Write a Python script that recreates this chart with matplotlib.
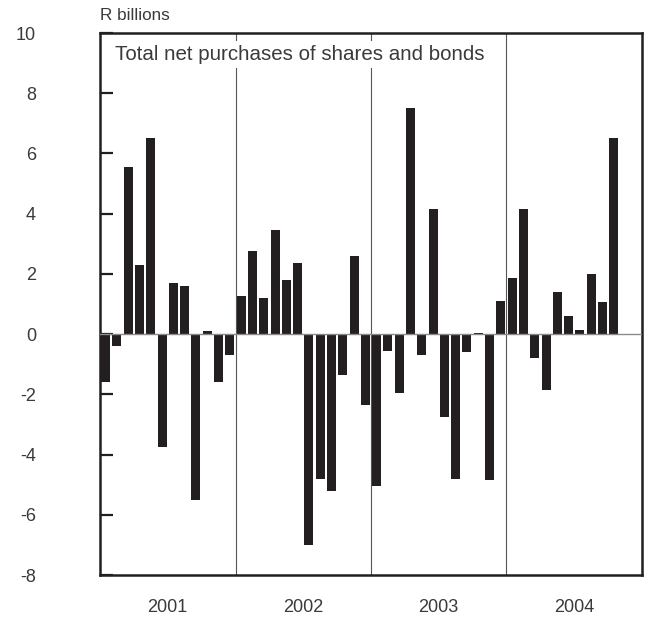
import numpy as np
import matplotlib
matplotlib.use('Agg')
import matplotlib.pyplot as plt

plt.rcParams['font.family'] = ['Liberation Sans', 'DejaVu Sans']

# monthly values, R billions (Jan 2001 - Oct 2004)
years = ['2001', '2002', '2003', '2004']
v2001 = [-1.6, -0.4, 5.55, 2.3, 6.5, -3.75, 1.7, 1.6, -5.5, 0.1, -1.6, -0.7]
v2002 = [1.25, 2.75, 1.2, 3.45, 1.8, 2.35, -7.0, -4.8, -5.2, -1.35, 2.6, -2.35]
v2003 = [-5.05, -0.55, -1.95, 7.5, -0.7, 4.15, -2.75, -4.8, -0.6, 0.03, -4.85, 1.1]
v2004 = [1.85, 4.15, -0.8, -1.85, 1.4, 0.6, 0.15, 2.0, 1.05, 6.5]
yticks = [-8, -6, -4, -2, 0, 2, 4, 6, 8, 10]

values = v2001 + v2002 + v2003 + v2004
x = np.arange(len(values))

txt = '#3a3a3a'
dark = '#231f20'

fig = plt.figure(figsize=(6.62, 6.18), dpi=100)
ax = fig.add_axes([100/662, 43/618, 542/662, 542/618])

ax.bar(x, values, width=0.8, color=dark, zorder=3)
ax.axhline(0, color='#8a8a8a', lw=1.0, zorder=4)

# year separators
for i in range(1, len(years)):
    ax.axvline(12*i - 0.5, color='#555555', lw=0.8, zorder=1)

ax.set_xlim(-0.5, 47.5)
ax.set_ylim(-8, 10)

ax.set_yticks(yticks)
ax.set_yticklabels([str(t) for t in yticks], color=txt, fontsize=13)
ax.tick_params(axis='y', direction='in', length=9, width=1.6, color=dark, pad=46)
for lab in ax.get_yticklabels():
    lab.set_horizontalalignment('right')

ax.set_xticks([12*i + 5.5 for i in range(len(years))])
ax.set_xticklabels(years, color=txt, fontsize=13)
ax.tick_params(axis='x', length=0, pad=17)

for s in ax.spines.values():
    s.set_linewidth(1.8)
    s.set_color(dark)

ax.text(0.028, 0.961, 'Total net purchases of shares and bonds', transform=ax.transAxes,
        ha='left', va='center', fontsize=14.8, color=txt, zorder=5,
        bbox=dict(fc='white', ec='none', pad=3))

fig.text(100/662, 1 - 15/618, 'R billions', ha='left', va='center', fontsize=12.3, color=txt)

fig.savefig('out.png', dpi=100)
